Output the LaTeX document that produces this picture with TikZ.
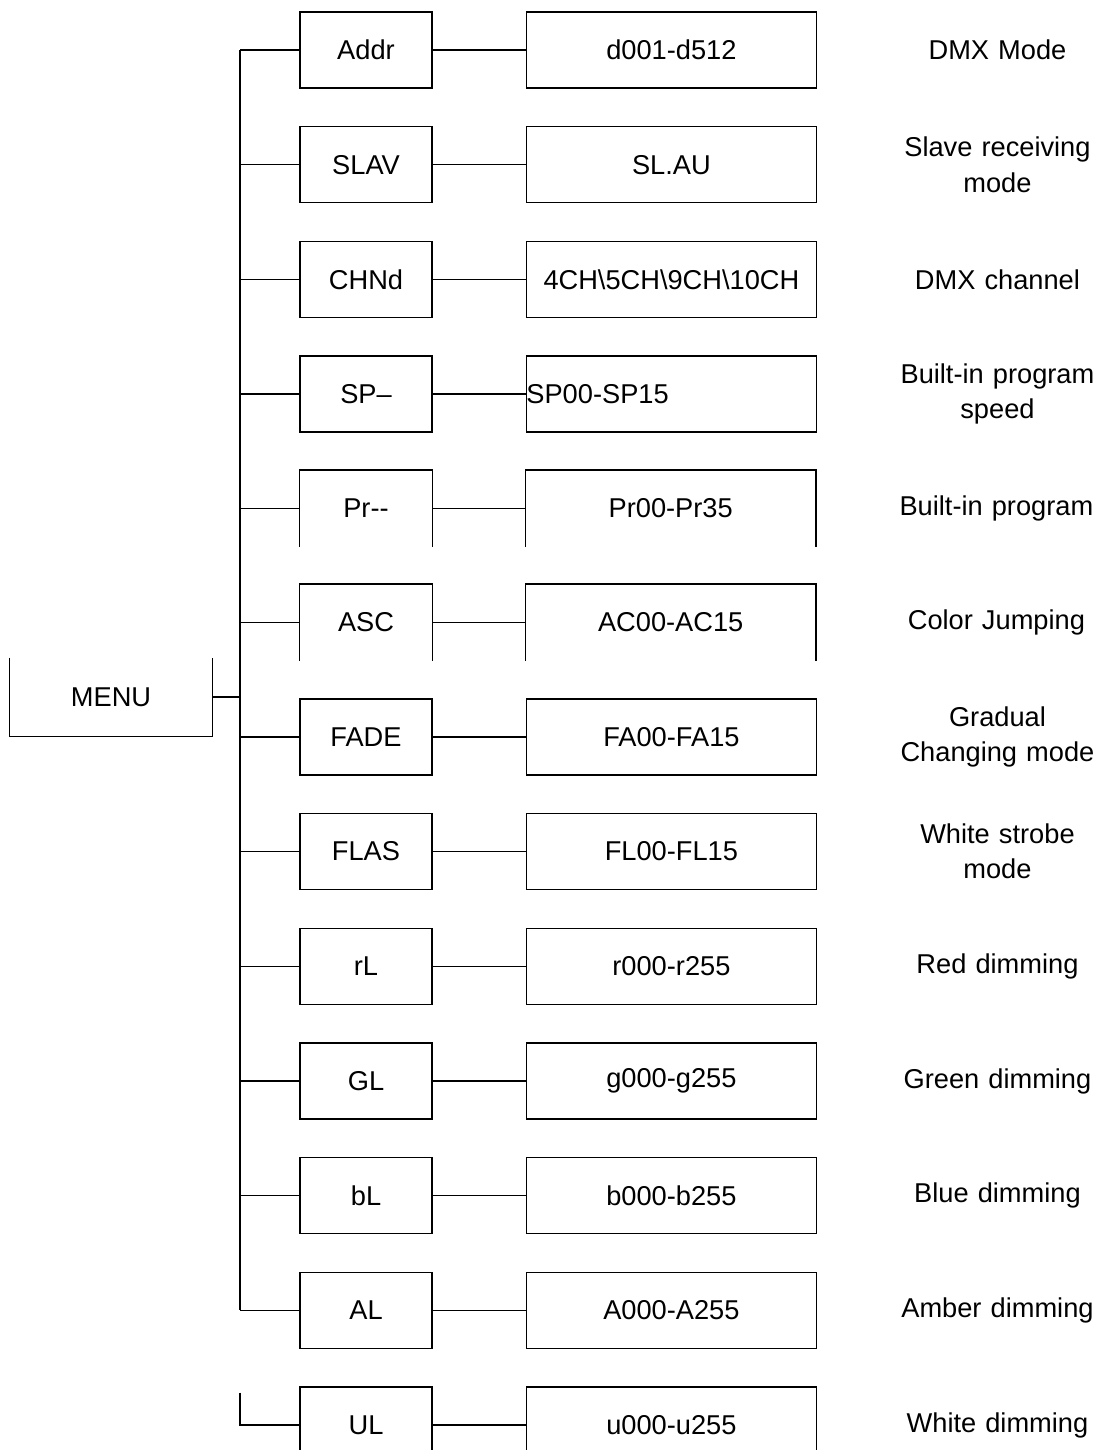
\documentclass[tikz,border=0pt]{standalone}
\usepackage{fontspec}
\setmainfont{Liberation Sans}
\usetikzlibrary{positioning, calc}

\begin{document}
\begin{tikzpicture}[
    every node/.style={font=\fontsize{15.5}{20}\selectfont},
    item/.style={rectangle, draw, line width=0.8pt, inner sep=0pt, minimum width=2.64cm, minimum height=1.52cm},
    valbox/.style={item, minimum width=5.8cm},
    openitem/.style={rectangle, inner sep=0pt, minimum width=2.64cm, minimum height=1.52cm},
    openvalbox/.style={openitem, minimum width=5.8cm},
    note/.style={align=center, text width=4.4cm, inner sep=0pt, anchor=west},
    wire/.style={line width=0.8pt},
]
\useasboundingbox (0,0) rectangle (22.24,-29);

% left column of menu items
\node[item] (addr) at (7.32,-1.0) {Addr};
\node[item, below=0.746cm of addr] (slav) {SLAV};
\node[item, below=0.746cm of slav] (chnd) {CHNd};
\node[item, below=0.746cm of chnd] (sp) {SP--};
\node[openitem, below=0.746cm of sp] (pr) {Pr-{}-};
\node[openitem, below=0.746cm of pr] (asc) {ASC};
\node[item, below=0.746cm of asc] (fade) {FADE};
\node[item, below=0.746cm of fade] (flas) {FLAS};
\node[item, below=0.746cm of flas] (rl) {rL};
\node[item, below=0.746cm of rl] (gl) {GL};
\node[item, below=0.746cm of gl] (bl) {bL};
\node[item, below=0.746cm of bl] (al) {AL};
\node[item, below=0.746cm of al] (ul) {UL};

% value ranges
\node[valbox, right=1.86cm of addr] (addrval) {d001-d512};
\node[valbox, right=1.86cm of slav] (slavval) {SL.AU};
\node[valbox, right=1.86cm of chnd] (chndval) {4CH\textbackslash 5CH\textbackslash 9CH\textbackslash 10CH};
\node[valbox, right=1.86cm of sp, text width=5.8cm, align=left] (spval) {SP00-SP15};
\node[openvalbox, right=1.86cm of pr] (prval) {Pr00-Pr35};
\node[openvalbox, right=1.86cm of asc] (ascval) {AC00-AC15};
\node[valbox, right=1.86cm of fade] (fadeval) {FA00-FA15};
\node[valbox, right=1.86cm of flas] (flasval) {FL00-FL15};
\node[valbox, right=1.86cm of rl] (rlval) {r000-r255};
\node[valbox, right=1.86cm of gl] (glval) {g000-g255};
\node[valbox, right=1.86cm of bl] (blval) {b000-b255};
\node[valbox, right=1.86cm of al] (alval) {A000-A255};
\node[valbox, right=1.86cm of ul] (ulval) {u000-u255};

% descriptions
\node[note, right=1.4cm of addrval] (addrnote) {DMX Mode};
\node[note, right=1.4cm of slavval] (slavnote) {Slave receiving\\mode};
\node[note, right=1.4cm of chndval] (chndnote) {DMX channel};
\node[note, right=1.4cm of spval] (spnote) {Built-in program\\speed};
\node[note, right=1.4cm of prval] (prnote) {Built-in program};
\node[note, right=1.4cm of ascval] (ascnote) {Color Jumping};
\node[note, right=1.4cm of fadeval] (fadenote) {Gradual\\Changing mode};
\node[note, right=1.4cm of flasval] (flasnote) {White strobe\\mode};
\node[note, right=1.4cm of rlval] (rlnote) {Red dimming};
\node[note, right=1.4cm of glval] (glnote) {Green dimming};
\node[note, right=1.4cm of blval] (blnote) {Blue dimming};
\node[note, right=1.4cm of alval] (alnote) {Amber dimming};
\node[note, right=1.4cm of ulval] (ulnote) {White dimming};

% MENU root (open on top)
\node[openitem, minimum width=4.04cm, minimum height=1.56cm] (menu) at (2.22,-13.94) {MENU};
\draw[wire] (menu.north west) |- (menu.south east) -- (menu.north east);

% open-bottom boxes
\draw[wire] (pr.south west) |- (pr.north east) -- (pr.south east);
\draw[wire] (asc.south west) |- (asc.north east) -- (asc.south east);
\draw[wire] (prval.south west) |- (prval.north east) -- (prval.south east);
\draw[wire] (ascval.south west) |- (ascval.north east) -- (ascval.south east);

% trunk on the left
\coordinate (rail) at (4.8,0);
\draw[wire] (addr.west -| rail) -- (al.west -| rail);
\draw[wire] (menu.east) -- (menu.east -| rail);
\draw[wire] (addr.west) -- (addr.west -| rail);
\draw[wire] (slav.west) -- (slav.west -| rail);
\draw[wire] (chnd.west) -- (chnd.west -| rail);
\draw[wire] (sp.west) -- (sp.west -| rail);
\draw[wire] (pr.west) -- (pr.west -| rail);
\draw[wire] (asc.west) -- (asc.west -| rail);
\draw[wire] (fade.west) -- (fade.west -| rail);
\draw[wire] (flas.west) -- (flas.west -| rail);
\draw[wire] (rl.west) -- (rl.west -| rail);
\draw[wire] (gl.west) -- (gl.west -| rail);
\draw[wire] (bl.west) -- (bl.west -| rail);
\draw[wire] (al.west) -- (al.west -| rail);

% separate branch for UL
\coordinate (ultop) at ($(ul.west -| rail)+(0,0.65)$);
\draw[wire] (ultop) |- (ul.west);

% item to range links
\draw[wire] (addr) -- (addrval);
\draw[wire] (slav) -- (slavval);
\draw[wire] (chnd) -- (chndval);
\draw[wire] (sp) -- (spval);
\draw[wire] (pr) -- (prval);
\draw[wire] (asc) -- (ascval);
\draw[wire] (fade) -- (fadeval);
\draw[wire] (flas) -- (flasval);
\draw[wire] (rl) -- (rlval);
\draw[wire] (gl) -- (glval);
\draw[wire] (bl) -- (blval);
\draw[wire] (al) -- (alval);
\draw[wire] (ul) -- (ulval);

\end{tikzpicture}
\end{document}
